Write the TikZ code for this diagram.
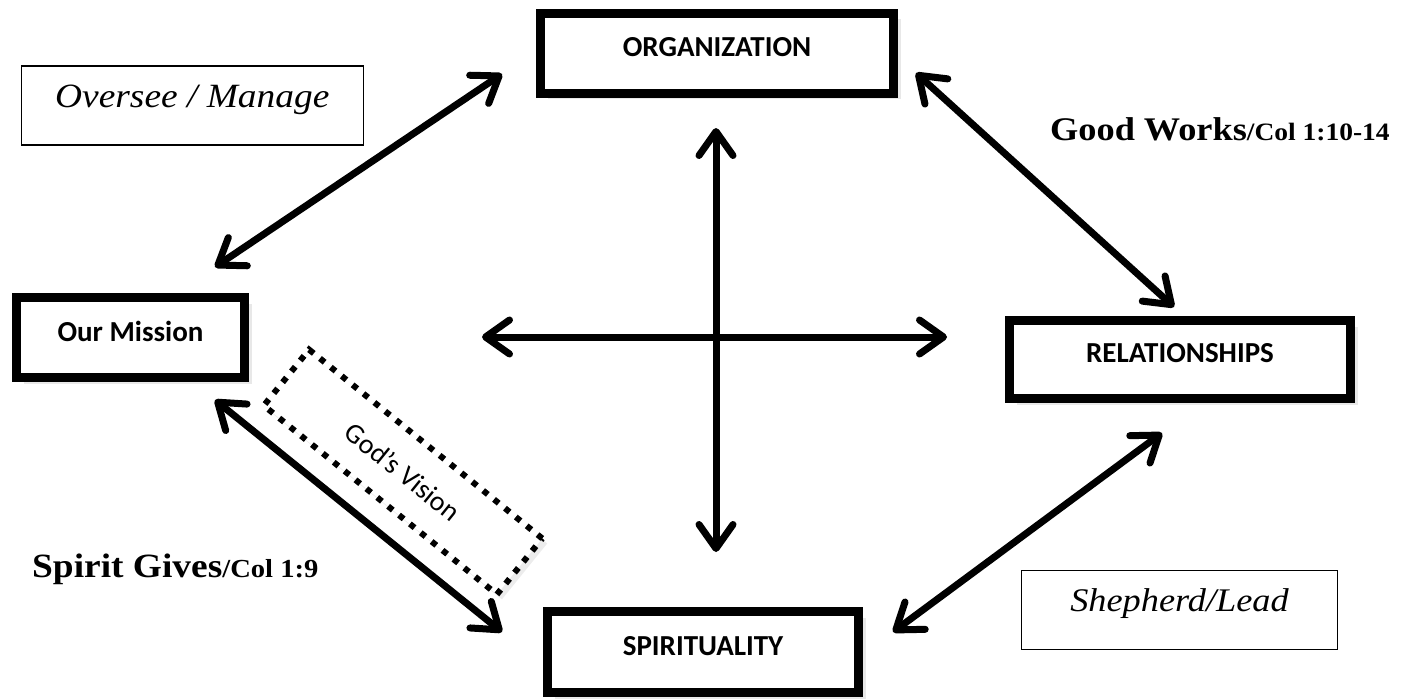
\documentclass[tikz,border=0pt]{standalone}
\usepackage{fontspec}
\setmainfont{Liberation Serif}
\newfontfamily\palfont[FakeStretch=1.1]{Liberation Serif}
\newfontfamily\boxfont{Carlito}
\usetikzlibrary{arrows.meta,shadows}
\newcommand\liftup[1]{\raisebox{6pt}[\height][\depth]{#1}}
\newcommand\smallref{\fontsize{25}{30}\selectfont}
\begin{document}
\begin{tikzpicture}[x=1pt,y=-1pt,
  mainbox/.style={draw, line width=9pt, fill=white, inner sep=0pt,
    font=\boxfont\bfseries\fontsize{29}{34}\selectfont,
    drop shadow={shadow xshift=7pt, shadow yshift=-6pt, fill=black!18}},
  thinbox/.style={draw, line width=1.5pt, fill=white, inner sep=0pt,
    font=\palfont\itshape\fontsize{34}{40}\selectfont},
  visionbox/.style={draw, line width=6pt, dash pattern=on 6pt off 8pt,
    fill=white, inner sep=0pt, font=\boxfont\fontsize{28}{32}\selectfont,
    drop shadow={shadow xshift=5pt, shadow yshift=-5pt, fill=black!15}},
  biglabel/.style={font=\palfont\bfseries\fontsize{33}{38}\selectfont, inner sep=0pt},
  barb/.tip={Straight Barb[round,length=24pt,width=34pt]},
  dbl/.style={line width=7pt, {barb}-{barb}}]
\useasboundingbox (0,0) rectangle (1420,698);

% main boxes
\node[mainbox, minimum width=353, minimum height=80] (org) at (717,53.5) {\liftup{ORGANIZATION}};
\node[mainbox, minimum width=228, minimum height=80] (mission) at (130.5,337.5) {\liftup{Our Mission}};
\node[mainbox, minimum width=341, minimum height=78] (rel) at (1180,359.5) {\liftup{RELATIONSHIPS}};
\node[mainbox, minimum width=311, minimum height=81] (spir) at (703,652) {\liftup{SPIRITUALITY}};

% thin label boxes
\node[thinbox, minimum width=342, minimum height=79] (oversee) at (192.3,105.7) {\liftup{Oversee / Manage}};
\node[thinbox, minimum width=316, minimum height=79, font=\palfont\itshape\fontsize{33}{38}\selectfont] (shepherd) at (1179.5,610) {\liftup{Shepherd/Lead}};

% God's Vision
\node[visionbox, rotate=-39, minimum width=300, minimum height=72] (vision) at (403,472) {God’s Vision};

% text labels
\node[biglabel, anchor=base west] (good) at (1050,140) {Good Works{\smallref/Col 1:10-14}};
\node[biglabel, anchor=base west, font=\palfont\bfseries\fontsize{34}{38}\selectfont] (spirit) at (32,577) {Spirit Gives{\fontsize{26}{30}\selectfont/Col 1:9}};

% arrow end points
\coordinate (m1) at (215,267);
\coordinate (o1) at (502,74);
\coordinate (o2) at (916,73);
\coordinate (r1) at (1174,307);
\coordinate (r2) at (1162,433);
\coordinate (s1) at (893,632);
\coordinate (m2) at (215,400);
\coordinate (s2) at (502,632);
\coordinate (ct) at (716,128);
\coordinate (cb) at (716,552);
\coordinate (cl) at (482,337);
\coordinate (cr) at (947,337);

\draw[dbl] (m1) -- (o1);
\draw[dbl] (o2) -- (r1);
\draw[dbl] (r2) -- (s1);
\draw[dbl] (m2) -- (s2);
\draw[dbl] (ct) -- (cb);
\draw[dbl] (cl) -- (cr);
\end{tikzpicture}
\end{document}
